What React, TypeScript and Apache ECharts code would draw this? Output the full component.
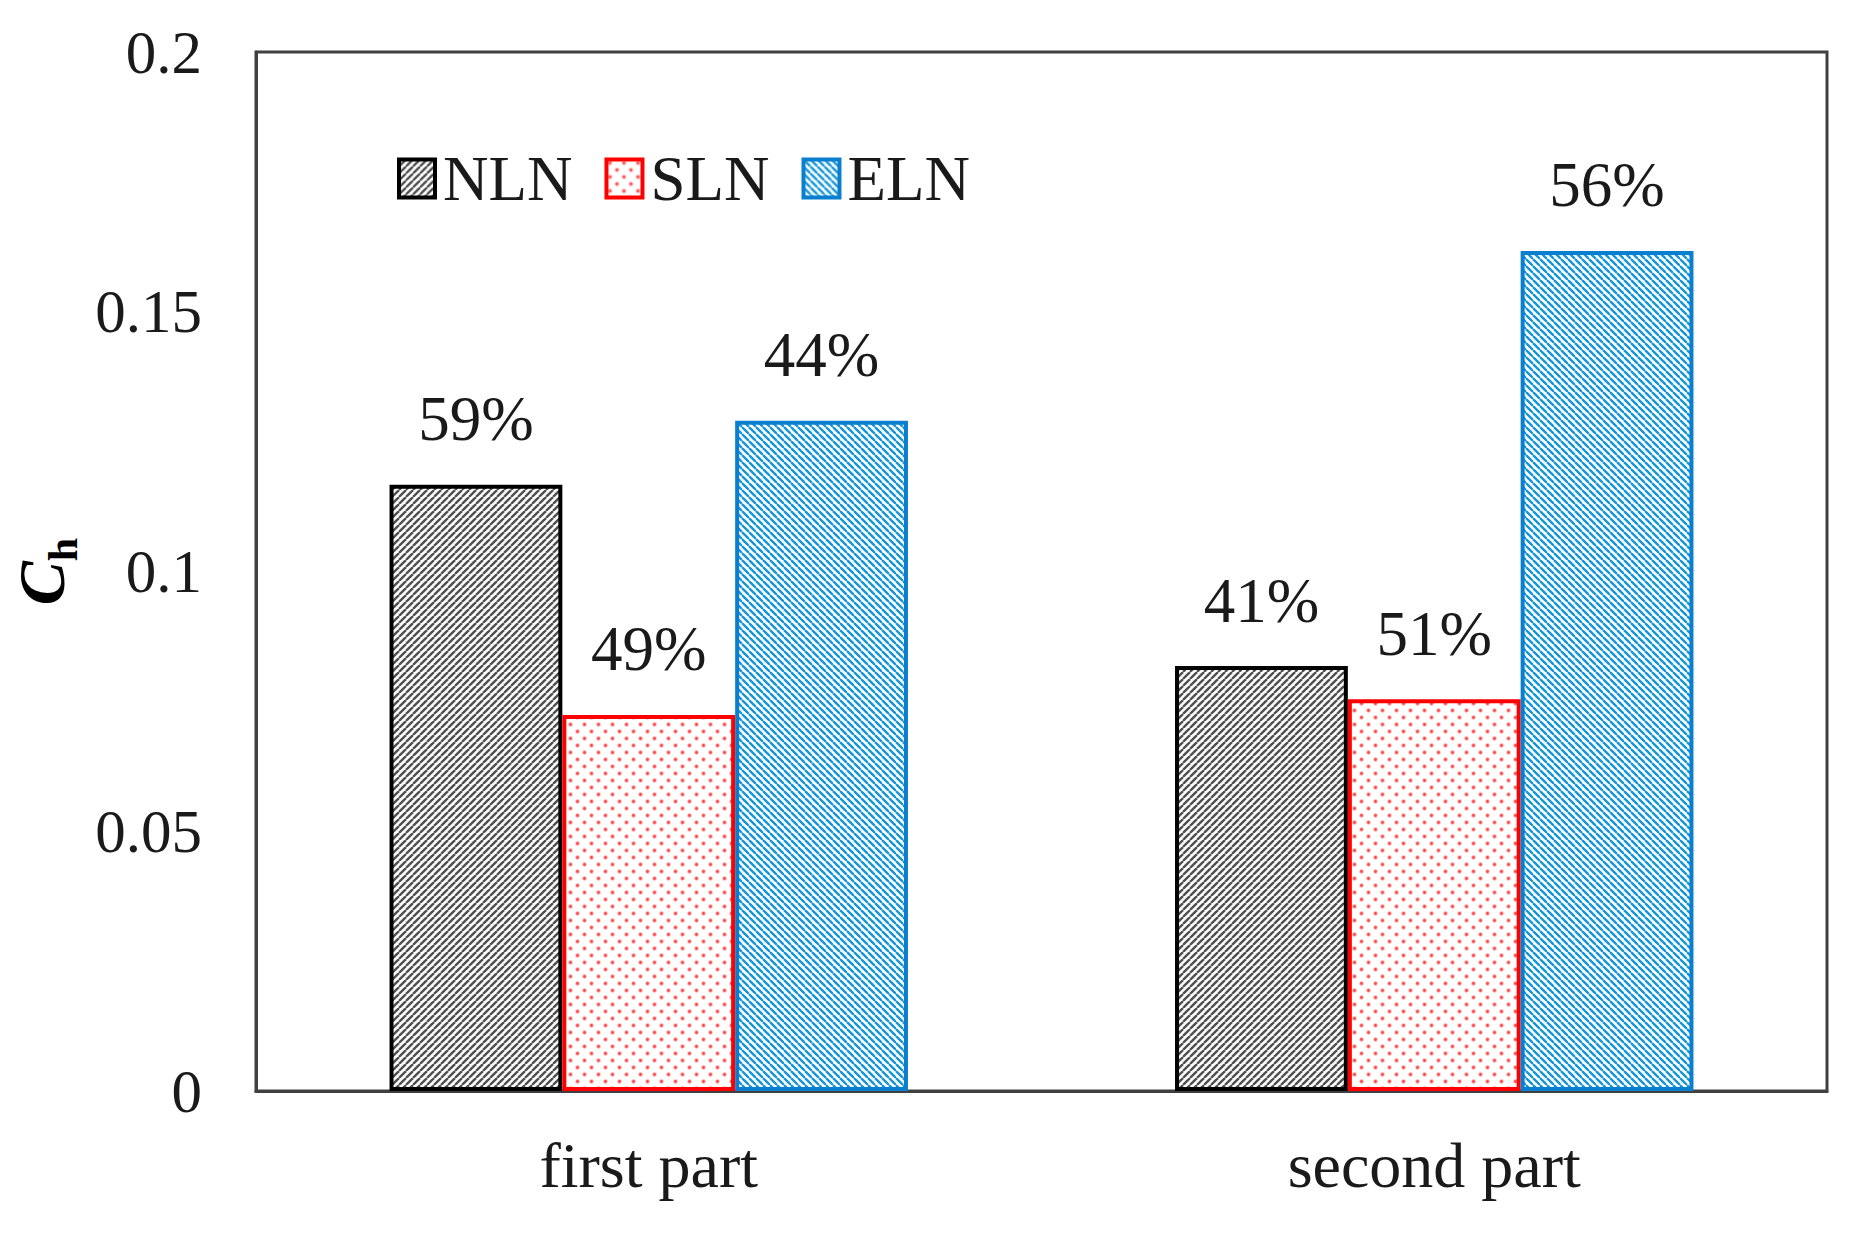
import React, { useEffect, useRef } from "react";
import * as echarts from "echarts";

const categories = ["first part", "second part"];
const seriesNames = ["NLN", "SLN", "ELN"];
const nlnValues = [0.1167, 0.0818];
const slnValues = [0.0724, 0.0754];
const elnValues = [0.129, 0.1617];
const nlnLabels = ["59%", "41%"];
const slnLabels = ["49%", "51%"];
const elnLabels = ["44%", "56%"];
const yMin = 0;
const yMax = 0.2;
const yInterval = 0.05;

const FONT = "'Liberation Serif', 'Times New Roman', serif";

function makeHatch(size: number, color: string, lw: number, forward: boolean) {
  const c = document.createElement("canvas");
  c.width = size;
  c.height = size;
  const ctx = c.getContext("2d")!;
  ctx.fillStyle = "#ffffff";
  ctx.fillRect(0, 0, size, size);
  ctx.strokeStyle = color;
  ctx.lineWidth = lw;
  for (let k = -1; k <= 1; k++) {
    ctx.beginPath();
    if (forward) {
      ctx.moveTo(k * size, size);
      ctx.lineTo(k * size + size, 0);
    } else {
      ctx.moveTo(k * size, 0);
      ctx.lineTo(k * size + size, size);
    }
    ctx.stroke();
  }
  return { image: c, repeat: "repeat", imageWidth: size, imageHeight: size };
}

function makeDots(size: number, color: string, r: number) {
  const c = document.createElement("canvas");
  c.width = size;
  c.height = size;
  const ctx = c.getContext("2d")!;
  ctx.fillStyle = "#ffffff";
  ctx.fillRect(0, 0, size, size);
  const pts = [
    [size / 4, size / 4],
    [(3 * size) / 4, (3 * size) / 4],
  ];
  for (const [x, y] of pts) {
    ctx.fillStyle = "rgba(255,120,120,0.45)";
    ctx.beginPath();
    ctx.arc(x, y, r + 1, 0, Math.PI * 2);
    ctx.fill();
    ctx.fillStyle = color;
    ctx.beginPath();
    ctx.arc(x, y, r, 0, Math.PI * 2);
    ctx.fill();
  }
  return { image: c, repeat: "repeat", imageWidth: size, imageHeight: size };
}

export default function App() {
  const ref = useRef<HTMLDivElement>(null);
  useEffect(() => {
    if (!ref.current) return;
    const chart = echarts.init(ref.current, undefined, { renderer: "svg" });
    const nlnFill = makeHatch(7, "#505050", 2.4, true);
    const slnFill = makeDots(14, "#ff4848", 1.4);
    const elnFill = makeHatch(7, "#1496d8", 2.4, false);

    const mkLabel = (labels: string[]) => ({
      show: true,
      position: "top",
      distance: 34,
      fontFamily: FONT,
      fontSize: 63,
      color: "#1a1a1a",
      formatter: (p: any) => labels[p.dataIndex],
    });

    const option: any = {
      animation: false,
      backgroundColor: "#ffffff",
      grid: {
        left: 256,
        top: 52,
        width: 1571,
        height: 1039,
        show: true,
        borderColor: "#404040",
        borderWidth: 3,
        backgroundColor: "transparent",
      },
      legend: {
        data: seriesNames,
        icon: "rect",
        left: 392,
        top: 142,
        itemWidth: 36,
        itemHeight: 38,
        itemGap: 32,
        itemStyle: { borderWidth: 4 },
        textStyle: { fontFamily: FONT, fontSize: 63, color: "#1a1a1a", padding: [0, 0, 0, 3] },
      },
      xAxis: {
        type: "category",
        data: categories,
        axisLine: { show: true, lineStyle: { color: "#404040", width: 3 } },
        axisTick: { show: false },
        axisLabel: { fontFamily: FONT, fontSize: 64, color: "#1a1a1a", margin: 42 },
      },
      yAxis: {
        type: "value",
        min: yMin,
        max: yMax,
        interval: yInterval,
        splitLine: { show: false },
        axisLine: { show: true, lineStyle: { color: "#404040", width: 3 } },
        axisTick: { show: false },
        axisLabel: { fontFamily: FONT, fontSize: 61, color: "#1a1a1a", margin: 54 },
        name: "{c|C}{h|h}",
        nameLocation: "middle",
        nameGap: 180,
        nameTextStyle: {
          rich: {
            c: { fontFamily: FONT, fontSize: 66, fontStyle: "italic", fontWeight: "bold", color: "#000", verticalAlign: "top", lineHeight: 66 },
            h: { fontFamily: FONT, fontSize: 42, fontWeight: "bold", color: "#000", verticalAlign: "top", lineHeight: 42, padding: [34, 0, 0, 0] },
          },
        },
      },
      series: [
        {
          name: "NLN",
          type: "bar",
          data: nlnValues,
          barWidth: "22%",
          barGap: "0%",
          itemStyle: { color: nlnFill, borderColor: "#000000", borderWidth: 4 },
          label: mkLabel(nlnLabels),
        },
        {
          name: "SLN",
          type: "bar",
          data: slnValues,
          barWidth: "22%",
          barGap: "0%",
          itemStyle: { color: slnFill, borderColor: "#ff0000", borderWidth: 4 },
          label: mkLabel(slnLabels),
        },
        {
          name: "ELN",
          type: "bar",
          data: elnValues,
          barWidth: "22%",
          barGap: "0%",
          itemStyle: { color: elnFill, borderColor: "#0a7fd0", borderWidth: 4 },
          label: mkLabel(elnLabels),
        },
      ],
    };
    chart.setOption(option);
    return () => chart.dispose();
  }, []);
  return (
    <div
      ref={ref}
      style={{ position: "fixed", left: 0, top: 0, width: 1859, height: 1240, background: "#fff" }}
    />
  );
}
